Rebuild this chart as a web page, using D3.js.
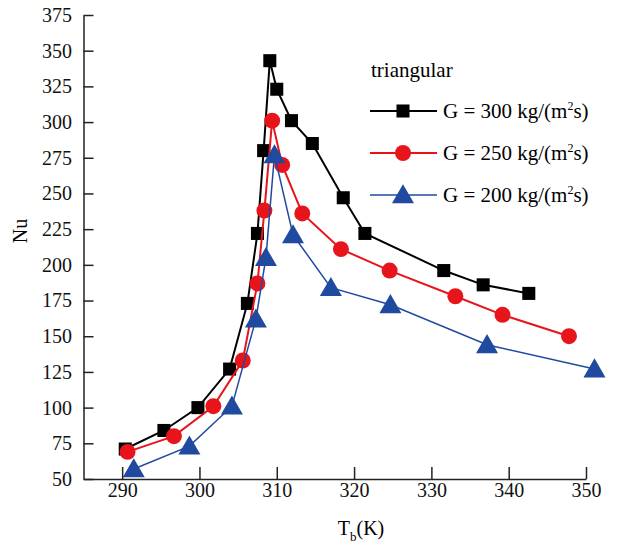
<!DOCTYPE html>
<html>
<head>
<meta charset="utf-8">
<script src="https://cdn.jsdelivr.net/npm/d3@7"></script>
<style>
  body { margin: 0; background: #fff; }
  svg text { font-family: "Liberation Serif", "Times New Roman", Tinos, "DejaVu Serif", "Noto Serif", serif !important; }
</style>
</head>
<body>
<svg width="629" height="545"></svg>
<script>
// data
var seriesNames = ["G = 300 kg/(m", "G = 250 kg/(m", "G = 200 kg/(m"];
var tb300 = [290.4, 295.4, 299.8, 303.9, 306.2, 307.5, 308.3, 309.1, 310.0, 311.9, 314.6, 318.6, 321.4, 331.6, 336.7, 342.6];
var nu300 = [71, 84, 100, 127, 173, 222, 280, 343, 323, 301, 285, 247, 222, 196, 186, 180];
var tb250 = [290.7, 296.7, 301.8, 305.6, 307.5, 308.4, 309.4, 310.7, 313.3, 318.3, 324.6, 333.1, 339.2, 347.8];
var nu250 = [69, 80, 101, 133, 187, 238, 301, 270, 236, 211, 196, 178, 165, 150];
var tb200 = [291.5, 298.7, 304.2, 307.3, 308.6, 309.7, 312.1, 317.0, 324.7, 337.2, 351.1];
var nu200 = [57, 73, 101, 162, 205, 277, 221, 184, 172, 144, 127];
var xTicks = [290, 300, 310, 320, 330, 340, 350];
var yTicks = [50, 75, 100, 125, 150, 175, 200, 225, 250, 275, 300, 325, 350, 375];

var colors = ["#000000", "#e8141c", "#1f4aa0"];
var widths = [2, 2, 1.5];
var shapes = [d3.symbolSquare, d3.symbolCircle, d3.symbolTriangle];
var sizes = [170, 200, 210];

var svg = d3.select("svg");
var mLeft = 83.5, mRight = 586, mTop = 15, mBottom = 479;

var x = d3.scaleLinear().domain([285, 350]).range([mLeft, mRight]);
var y = d3.scaleLinear().domain([50, 375]).range([mBottom, mTop]);

// axes
var xAxis = svg.append("g")
    .attr("transform", "translate(0," + mBottom + ")")
    .call(d3.axisBottom(x).tickValues(xTicks).tickSizeInner(-12).tickSizeOuter(0).tickPadding(4));
var yAxis = svg.append("g")
    .attr("transform", "translate(" + mLeft + ",0)")
    .call(d3.axisLeft(y).tickValues(yTicks).tickSizeInner(-10).tickSizeOuter(0).tickPadding(11.5));

[xAxis, yAxis].forEach(function(a) {
  a.attr("font-size", 20).attr("font-family", "Liberation Serif");
  a.selectAll("path, line").attr("stroke", "#222").attr("stroke-width", 1.5);
  a.selectAll("text").attr("fill", "#111").attr("font-family", "Liberation Serif");
});

// axis labels
svg.append("text")
    .attr("transform", "translate(27,231) rotate(-90)")
    .attr("text-anchor", "middle")
    .attr("font-family", "Liberation Serif")
    .attr("font-size", 20)
    .text("Nu");

var xl = svg.append("text")
    .attr("x", 361).attr("y", 535)
    .attr("text-anchor", "middle")
    .attr("font-family", "Liberation Serif")
    .attr("font-size", 20);
xl.append("tspan").text("T");
xl.append("tspan").attr("font-size", 13).attr("dy", 6).text("b");
xl.append("tspan").attr("dy", -6).text("(K)");

// series
var series = [
  {tb: tb300, nu: nu300},
  {tb: tb250, nu: nu250},
  {tb: tb200, nu: nu200}
];

var line = d3.line().x(function(d) { return x(d[0]); }).y(function(d) { return y(d[1]); });

series.forEach(function(s, i) {
  var pts = s.tb.map(function(t, j) { return [t, s.nu[j]]; });
  svg.append("path")
      .datum(pts)
      .attr("d", line)
      .attr("fill", "none")
      .attr("stroke", colors[i])
      .attr("stroke-width", widths[i]);
  svg.selectAll(".m" + i)
      .data(pts)
    .enter().append("path")
      .attr("class", "m" + i)
      .attr("transform", function(d) { return "translate(" + x(d[0]) + "," + (y(d[1]) + (i == 2 ? 2 : 0)) + ")"; })
      .attr("d", d3.symbol().type(shapes[i]).size(sizes[i]))
      .attr("fill", colors[i]);
});

// legend
svg.append("text")
    .attr("x", 371).attr("y", 77)
    .attr("font-family", "Liberation Serif")
    .attr("font-size", 21)
    .text("triangular");

var legend = svg.selectAll(".legend")
    .data(seriesNames)
  .enter().append("g")
    .attr("class", "legend")
    .attr("transform", function(d, i) { return "translate(0," + (111 + i * 42) + ")"; });

legend.append("line")
    .attr("x1", 370).attr("x2", 437)
    .attr("stroke", function(d, i) { return colors[i]; })
    .attr("stroke-width", function(d, i) { return widths[i]; });

legend.append("path")
    .attr("transform", function(d, i) { return "translate(403," + (i == 2 ? 2 : 0) + ")"; })
    .attr("d", function(d, i) { return d3.symbol().type(shapes[i]).size(sizes[i])(); })
    .attr("fill", function(d, i) { return colors[i]; });

var lt = legend.append("text")
    .attr("x", 443).attr("y", 7)
    .attr("font-family", "Liberation Serif")
    .attr("font-size", 21);
lt.append("tspan").text(function(d) { return d; });
lt.append("tspan").attr("font-size", 12).attr("dy", -8).text("2");
lt.append("tspan").attr("dy", 8).text("s)");
</script>
</body>
</html>
